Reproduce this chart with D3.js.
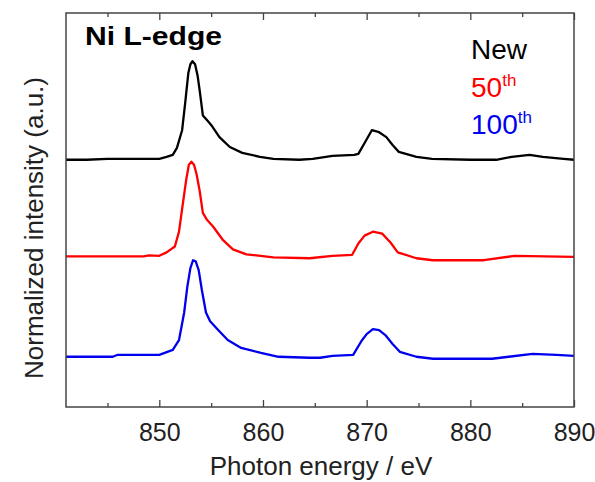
<!DOCTYPE html>
<html>
<head>
<meta charset="utf-8">
<script src="https://cdn.jsdelivr.net/npm/d3@7/dist/d3.min.js"></script>
<style>
  body { margin: 0; background: #fff; }
  svg text { font-family: Arial, "Liberation Sans", sans-serif; }
</style>
</head>
<body>
<svg id="chart" width="595" height="482"></svg>
<script>
// photon energy (eV) / normalized intensity
const newEnergy = [841, 843, 845, 848, 850, 850.7, 851.3, 851.7, 852.2, 852.5, 852.8, 853, 853.2, 853.45, 853.7, 853.9, 854.2, 854.7, 855.1, 855.8, 856.8, 858, 859.7, 861, 863.5, 864.8, 866.7, 868.8, 869.2, 869.8, 870.5, 871.2, 871.9, 872.5, 873.1, 874.8, 876.3, 880, 882.5, 884, 885.7, 887, 889, 890];
const newValue = [0, 0, 0.01, 0.01, 0.01, 0.03, 0.05, 0.12, 0.3, 0.58, 0.88, 0.97, 1.0, 0.97, 0.85, 0.7, 0.45, 0.39, 0.34, 0.23, 0.13, 0.07, 0.03, 0.01, 0, 0.01, 0.04, 0.05, 0.06, 0.17, 0.3, 0.28, 0.23, 0.15, 0.08, 0.03, 0.01, 0, 0, 0.03, 0.05, 0.03, 0.01, 0];

const c50Energy = [841, 848.5, 849, 850, 850.7, 851.5, 851.9, 852.2, 852.6, 852.85, 853.1, 853.35, 853.6, 853.9, 854.2, 854.6, 855.2, 856.1, 857.1, 858.4, 861, 864.5, 866.7, 868.6, 869.2, 869.8, 870.6, 871.5, 872.3, 873, 874.8, 876.4, 881.3, 884.3, 890];
const c50Value = [0.02, 0.02, 0.03, 0.025, 0.06, 0.12, 0.27, 0.5, 0.8, 0.95, 0.98, 0.95, 0.85, 0.68, 0.46, 0.39, 0.32, 0.19, 0.09, 0.04, 0.01, 0, 0.025, 0.035, 0.15, 0.23, 0.27, 0.25, 0.16, 0.06, 0, -0.02, -0.02, 0.025, 0.015];

const c100Energy = [841, 845.5, 846, 850, 851.3, 851.9, 852.4, 852.7, 853, 853.25, 853.5, 853.8, 854.1, 854.5, 854.9, 855.7, 856.6, 857.9, 859.8, 861.5, 864.5, 865.5, 866.7, 868.7, 869.5, 870, 870.6, 871.2, 871.8, 872.5, 873.2, 874.8, 876.4, 882.1, 883.7, 886, 888.3, 890];
const c100Value = [0, 0, 0.02, 0.02, 0.07, 0.17, 0.45, 0.71, 0.9, 0.98, 0.97, 0.88, 0.68, 0.45, 0.36, 0.27, 0.17, 0.09, 0.04, 0, -0.01, -0.01, 0.01, 0.02, 0.16, 0.23, 0.28, 0.27, 0.22, 0.13, 0.05, 0, -0.02, -0.02, 0, 0.03, 0.02, 0.01];

const seriesNames = ["New", "50", "100"];
const seriesColors = ["#000000", "#ff0000", "#0000ee"];
const seriesOffsets = [2, 1, 0];
const xTicks = [850, 860, 870, 880, 890];
const xMinorTicks = [845, 855, 865, 875, 885];

const margin = { top: 13, right: 21, bottom: 75, left: 66 };
const width = 595 - margin.left - margin.right;
const height = 482 - margin.top - margin.bottom;

const svg = d3.select("#chart");
const g = svg.append("g").attr("class", "chart").attr("transform", `translate(${margin.left},${margin.top})`);

const xScale = d3.scaleLinear().domain([841, 890]).range([0, width]);
const yScale = d3.scaleLinear().domain([-0.51, 3.49]).range([height, 0]);

const series = [
  { name: seriesNames[0], color: seriesColors[0], offset: seriesOffsets[0], data: newEnergy.map((e, i) => ({ e, v: newValue[i] })) },
  { name: seriesNames[1], color: seriesColors[1], offset: seriesOffsets[1], data: c50Energy.map((e, i) => ({ e, v: c50Value[i] })) },
  { name: seriesNames[2], color: seriesColors[2], offset: seriesOffsets[2], data: c100Energy.map((e, i) => ({ e, v: c100Value[i] })) }
];

g.append("clipPath").attr("id", "clip").append("rect").attr("width", width).attr("height", height);

series.forEach((s) => {
  const line = d3.line().x((d) => xScale(d.e)).y((d) => yScale(d.v + s.offset));
  g.append("path")
    .datum(s.data)
    .attr("clip-path", "url(#clip)")
    .attr("fill", "none")
    .attr("stroke", s.color)
    .attr("stroke-width", 2.3)
    .attr("stroke-linejoin", "round")
    .attr("d", line);
});

// axes: ticks pointing inward, bottom and top
const axisColor = "#444";
const bottom = g.append("g").attr("transform", `translate(0,${height})`)
  .call(d3.axisBottom(xScale).tickValues(xTicks).tickSizeInner(-7).tickSizeOuter(0).tickPadding(16).tickFormat(d3.format("d")));
bottom.selectAll("text").attr("font-size", 25).attr("fill", "#222").attr("font-family", "Arial, 'Liberation Sans', sans-serif");
bottom.call((a) => a.select(".domain").remove());
bottom.selectAll("line").attr("stroke", axisColor).attr("stroke-width", 1.3);

g.append("g").attr("transform", `translate(0,${height})`)
  .call(d3.axisBottom(xScale).tickValues(xMinorTicks).tickSize(-4).tickFormat(""))
  .call((a) => a.select(".domain").remove())
  .selectAll("line").attr("stroke", axisColor).attr("stroke-width", 1.3);

g.append("g")
  .call(d3.axisTop(xScale).tickValues(xTicks).tickSize(-7).tickFormat(""))
  .call((a) => a.select(".domain").remove())
  .selectAll("line").attr("stroke", axisColor).attr("stroke-width", 1.3);

g.append("g")
  .call(d3.axisTop(xScale).tickValues(xMinorTicks).tickSize(-4).tickFormat(""))
  .call((a) => a.select(".domain").remove())
  .selectAll("line").attr("stroke", axisColor).attr("stroke-width", 1.3);

g.append("rect")
  .attr("width", width)
  .attr("height", height)
  .attr("fill", "none")
  .attr("stroke", axisColor)
  .attr("stroke-width", 1.5);

// titles
svg.append("text")
  .attr("x", 321)
  .attr("y", 475)
  .attr("text-anchor", "middle")
  .attr("font-size", 26)
  .attr("fill", "#222")
  .text("Photon energy / eV");

svg.append("text")
  .attr("transform", "translate(43,228) rotate(-90)")
  .attr("text-anchor", "middle")
  .attr("font-size", 26)
  .attr("fill", "#222")
  .text("Normalized intensity (a.u.)");

svg.append("text")
  .attr("x", 85)
  .attr("y", 45)
  .attr("font-size", 25)
  .attr("font-weight", "bold")
  .attr("textLength", 137)
  .attr("lengthAdjust", "spacingAndGlyphs")
  .text("Ni L-edge");

// legend
const legendY = [59, 97, 134];
series.forEach((s, i) => {
  const t = svg.append("text")
    .attr("x", 471)
    .attr("y", legendY[i])
    .attr("font-size", 28)
    .attr("fill", s.color);
  t.append("tspan").text(s.name);
  if (i > 0) {
    t.append("tspan").attr("font-size", 17).attr("dy", -11).text("th");
  }
});
</script>
</body>
</html>
